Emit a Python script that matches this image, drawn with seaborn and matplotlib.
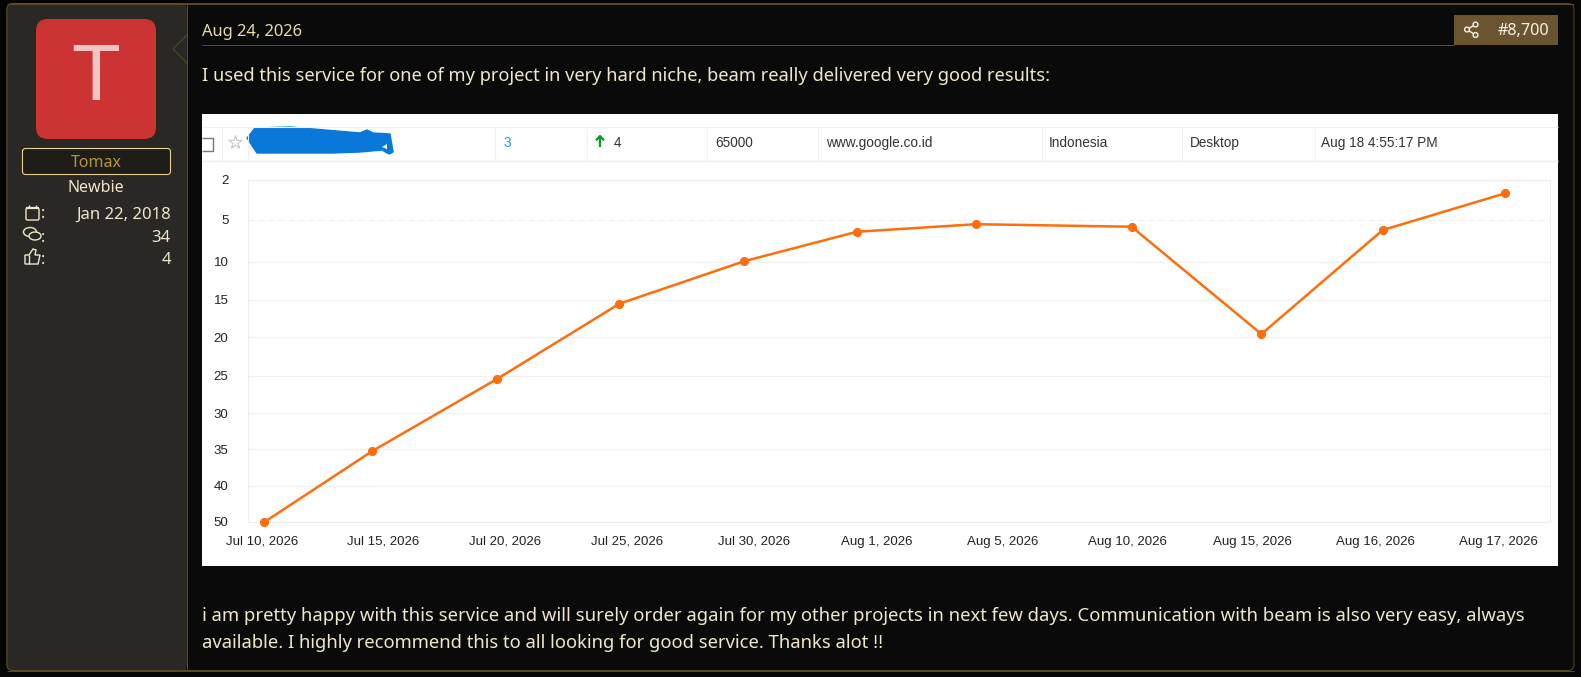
import numpy as np
import pandas as pd
import matplotlib
matplotlib.use("Agg")
import matplotlib.pyplot as plt
from matplotlib.patches import FancyBboxPatch, Rectangle, Polygon, Circle, Ellipse
import seaborn as sns

# chart data
date_labels = ["Jul 10, 2026", "Jul 15, 2026", "Jul 20, 2026", "Jul 25, 2026", "Jul 30, 2026",
               "Aug 1, 2026", "Aug 5, 2026", "Aug 10, 2026", "Aug 15, 2026", "Aug 16, 2026", "Aug 17, 2026"]
# the points do not sit exactly under the labels, so both are given as slots on one x axis
label_slots = [0.0, 0.978, 1.964, 2.951, 3.977, 4.972, 5.99, 7.0, 8.01, 9.0, 10.0]
point_slots = [0.02, 0.89, 1.90, 2.89, 3.90, 4.81, 5.77, 7.03, 8.08, 9.06, 10.05]
ranks = [50, 35.3, 25.4, 15.5, 9.9, 6.4, 5.5, 5.8, 19.6, 6.2, 3.0]
rank_ticks = [2, 5, 10, 15, 20, 25, 30, 35, 40, 50]
rank_rows = [0, 40, 82, 120, 157, 196, 233, 269, 306, 342]

BLACK = "#0a0a0a"
SIDE = "#2a2824"
GOLD = "#5c4a22"
CREAM = "#efe6cc"

sns.set_theme(style="white")
plt.rcParams["font.family"] = ["Noto Sans", "DejaVu Sans"]
plt.rcParams["lines.solid_capstyle"] = "butt"

W, H = 1581, 677
fig = plt.figure(figsize=(W / 100, H / 100), dpi=100, facecolor="#050505")


def px(size):
    return size * 0.72


# page drawn in pixel coordinates
bg = fig.add_axes([0, 0, 1, 1], zorder=0)
bg.set_xlim(0, W)
bg.set_ylim(H, 0)
bg.axis("off")

bg.add_patch(FancyBboxPatch((7, 3.5), 1567, 667, boxstyle="round,pad=0,rounding_size=6",
                            fc=BLACK, ec=GOLD, lw=0.7))
bg.add_patch(FancyBboxPatch((7, 3.5), 179, 667, boxstyle="round,pad=0,rounding_size=6",
                            fc=SIDE, ec=GOLD, lw=0.7))
bg.add_patch(Rectangle((176, 4), 10, 666, fc=SIDE, ec="none"))
bg.plot([186.5, 186.5], [3.5, 670], color=GOLD, lw=0.7)
bg.plot([7, 1574], [3.5, 3.5], color=GOLD, lw=0.7)
bg.plot([7, 1574], [670.5, 670.5], color=GOLD, lw=0.7)
bg.add_patch(Polygon([[187, 35], [173, 49], [187, 63]], fc=SIDE, ec=GOLD, lw=0.7, closed=False))

# left column
bg.add_patch(FancyBboxPatch((36, 19), 120, 120, boxstyle="round,pad=0,rounding_size=12",
                            fc="#cc3333", ec="none"))
bg.text(96, 80, "T", color="#f2c4c4", fontsize=px(80), family="Liberation Sans", ha="center", va="center")
bg.add_patch(FancyBboxPatch((22.5, 148.5), 148, 26, boxstyle="round,pad=0,rounding_size=3",
                            fc="#1e1d1a", ec="#e6d290", lw=0.8))
bg.text(96, 163, "Tomax", color="#b8962e", fontsize=px(16), ha="center", va="center")
bg.text(96, 187.5, "Newbie", color=CREAM, fontsize=px(16), ha="center", va="center")
for y, val in zip([214.5, 237.5, 259.5], ["Jan 22, 2018", "34", "4"]):
    bg.text(171, y, val, color=CREAM, fontsize=px(16.7), ha="right", va="center")
    bg.text(41, y, ":", color=CREAM, fontsize=px(16), ha="left", va="center")

# small icons next to the counters
bg.add_patch(FancyBboxPatch((26, 208), 13, 12, boxstyle="round,pad=0,rounding_size=1.5",
                            fc="none", ec=CREAM, lw=1))
bg.plot([26, 39], [208, 208], color=CREAM, lw=1.6)
bg.plot([29, 29], [204.5, 207], color=CREAM, lw=1)
bg.plot([36, 36], [204.5, 207], color=CREAM, lw=1)
bg.add_patch(Ellipse((30, 232), 13, 9, fc="none", ec=CREAM, lw=1))
bg.add_patch(Ellipse((35, 236), 12, 8, fc=SIDE, ec=CREAM, lw=1))
bg.add_patch(Polygon([[25, 264], [25, 255], [29, 255], [33, 249], [36, 250], [35, 255],
                      [40, 255], [38, 264]], fc="none", ec=CREAM, lw=1))
bg.plot([29, 29], [255, 264], color=CREAM, lw=1)

# post header
bg.text(202, 31.5, "Aug 24, 2026", color="#ead9ad", fontsize=px(16.5), ha="left", va="center")
bg.plot([202, 1454], [44.5, 44.5], color=GOLD, lw=0.7)
bg.add_patch(Rectangle((1454, 15), 104, 30, fc="#6b5530", ec="none"))
bg.text(1549, 31, "#8,700", color="#f6f2e6", fontsize=px(16.2), ha="right", va="center")
for cx, cy in [(1475.5, 24.5), (1467, 29.5), (1475.5, 35)]:
    bg.add_patch(Circle((cx, cy), 2.4, fc="#6b5530", ec="#f6f2e6", lw=1, zorder=3))
bg.plot([1475.5, 1467, 1475.5], [24.5, 29.5, 35], color="#f6f2e6", lw=1, zorder=2)

bg.text(202, 76, "I used this service for one of my project in very hard niche, beam really delivered very good results:",
        color=CREAM, fontsize=px(18.3), ha="left", va="center")
bg.text(202, 616, "i am pretty happy with this service and will surely order again for my other projects in next few days. "
        "Communication with beam is also very easy, always",
        color=CREAM, fontsize=px(18.5), ha="left", va="center")
bg.text(202, 643, "available. I highly recommend this to all looking for good service. Thanks alot !!",
        color=CREAM, fontsize=px(18.4), ha="left", va="center")

# screenshot inside the post
bg.add_patch(Rectangle((202, 114), 1356, 452, fc="white", ec="none"))
bg.plot([202, 1558], [126.5, 126.5], color="#f0f0f0", lw=0.8)
bg.plot([202, 1558], [160.5, 160.5], color="#eeeeee", lw=1)
for x in [222, 248, 495, 587, 707, 818, 1042, 1182, 1315]:
    bg.plot([x, x], [127, 160], color="#f0f0f0", lw=0.8)
bg.plot([202, 213, 213, 202], [137.5, 137.5, 151, 151], color="#777777", lw=1)
bg.scatter([235], [142], marker="*", s=100, fc="white", ec="#c8c8c8", lw=0.8, zorder=3)
bg.add_patch(Polygon([[247, 138], [255, 128], [290, 127], [337, 131], [360, 133], [367, 130],
                      [373, 133], [390, 134], [393, 152], [389, 154], [382, 150], [360, 152],
                      [333, 153], [257, 153]], fc="#0a78d8", ec="#0a78d8", lw=1, joinstyle="round"))
bg.add_patch(Polygon([[387, 144], [387, 149], [382, 147]], fc="white", ec="none", zorder=3))
row_font = "Liberation Sans"
bg.text(503, 143, "3", color="#2196f3", fontsize=px(13.6), family=row_font, ha="left", va="center")
bg.plot([600, 600], [136.5, 146.5], color="#0a9a1e", lw=1.6)
bg.plot([596, 600, 604], [140.5, 136, 140.5], color="#0a9a1e", lw=1.6)
for x, s in [(614, "4"), (715, "65000"), (826, "www.google.co.id"), (1049, "Indonesia"),
             (1190, "Desktop"), (1321, "Aug 18 4:55:17 PM")]:
    bg.text(x, 143, s, color="#333333", fontsize=px(13.6), family=row_font, ha="left", va="center")

# rank chart
ax = fig.add_axes([248 / W, 1 - 522 / H, 1302 / W, 342 / H], zorder=1)
ax.set_facecolor("white")


def to_row(v):
    return np.interp(v, rank_ticks, rank_rows)


def from_row(r):
    return np.interp(r, rank_rows, rank_ticks)


df = pd.DataFrame({"slot": point_slots, "rank": ranks})
sns.lineplot(data=df, x="slot", y="rank", color="#ff6d0d", linewidth=1.8, marker="o", markersize=5.8,
             markeredgecolor="#ff6d0d", clip_on=False, zorder=5, ax=ax)
ax.set_yscale("function", functions=(to_row, from_row))
ax.set_ylim(50, 2)
ax.set_xlim(-0.113, 10.413)
ax.set_yticks(rank_ticks)
ax.set_yticklabels([str(t) for t in rank_ticks])
ax.minorticks_off()
ax.set_xticks(label_slots)
ax.set_xticklabels(date_labels)
ax.set_xlabel("")
ax.set_ylabel("")
ax.tick_params(axis="both", length=0, labelcolor="#222222", labelsize=px(13.3))
ax.tick_params(axis="y", pad=14)
ax.tick_params(axis="x", pad=10)
for label in ax.get_xticklabels() + ax.get_yticklabels():
    label.set_fontfamily(row_font)
ax.grid(axis="y", color="#f1f1f1", lw=0.9)
ax.get_ygridlines()[1].set_linestyle((0, (5, 3)))
for s in ax.spines.values():
    s.set_color("#eeeeee")
    s.set_linewidth(0.8)

fig.savefig("out.png", dpi=100, facecolor=fig.get_facecolor())
